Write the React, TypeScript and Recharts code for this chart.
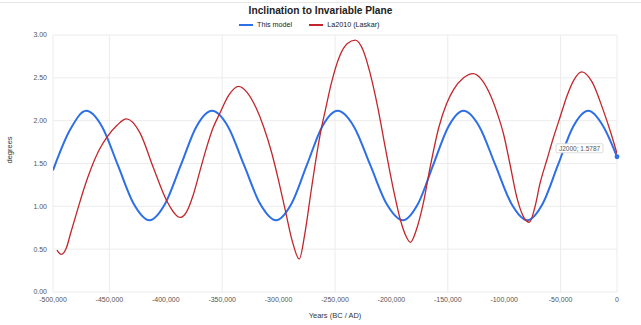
import React from "react";
import { LineChart, Line, XAxis, YAxis, CartesianGrid, ReferenceDot } from "recharts";

const title = "Inclination to Invariable Plane";
const seriesNames = ["This model", "La2010 (Laskar)"];
const xTicks = [-500000, -450000, -400000, -350000, -300000, -250000, -200000, -150000, -100000, -50000, 0];
const yTicks = [0, 0.5, 1, 1.5, 2, 2.5, 3];

const modelYears = [
  -500000, -485000, -470600, -456500, -442500, -428500, -414500, -400600, -386700, -372900,
  -359000, -344800, -330600, -316400, -302300, -288600, -275000, -261400, -247700, -233200,
  -218700, -204300, -189800, -176400, -163000, -149500, -136100, -122000, -107800, -93600,
  -79450, -65900, -52400, -38900, -25400, -12000, 0,
];
const modelValues = [
  1.42, 1.89, 2.115, 1.93, 1.48, 1.03, 0.838, 1.03, 1.48, 1.93,
  2.115, 1.93, 1.48, 1.03, 0.838, 1.03, 1.48, 1.93, 2.115, 1.93,
  1.48, 1.03, 0.838, 1.03, 1.48, 1.93, 2.115, 1.93, 1.48, 1.03,
  0.838, 1.03, 1.48, 1.93, 2.115, 1.93, 1.5787,
];

const laskarYears = [
  -496500, -492700, -488000, -484500, -478000, -472700, -466000, -459000, -452000, -443000,
  -434900, -423000, -411000, -399000,
  -387000, -381000, -376000, -370000, -364000, -358000, -352300, -344000,
  -335400, -328000, -320000, -313300, -306000, -300000, -294000, -288000, -281700, -276500,
  -271500, -267500, -263000, -258600, -253000, -246000, -239000, -232100, -225000, -218800,
  -212000, -205500, -198100, -192000, -187000, -183100, -178000, -172000, -165600, -158000,
  -151000, -145000, -136000, -127500, -120000, -113000, -106000, -100700, -95000, -88900,
  -83000, -77700, -73000, -68200, -62000, -56400, -50000, -44600, -38000, -31250,
  -22000, -12150, -6000, 0,
];
const laskarValues = [
  0.49, 0.44, 0.52, 0.68, 0.97, 1.2, 1.45, 1.66, 1.81, 1.95,
  2.02, 1.86, 1.45, 1.06,
  0.87, 0.95, 1.12, 1.4, 1.68, 1.92, 2.08, 2.3,
  2.4, 2.33, 2.15, 1.93, 1.62, 1.3, 0.95, 0.6, 0.386, 0.7,
  1.15, 1.5, 1.85, 2.12, 2.45, 2.75, 2.9, 2.94, 2.82, 2.55,
  2.15, 1.69, 1.19, 0.84, 0.65, 0.58, 0.72, 1.02, 1.46, 1.92,
  2.2, 2.36, 2.5, 2.55, 2.48, 2.32, 2.08, 1.85, 1.5, 1.11,
  0.88, 0.814, 0.98, 1.27, 1.55, 1.8, 2.06, 2.28, 2.48, 2.57,
  2.45, 2.12, 1.88, 1.617,
];

const annotationYear = 0;
const annotationValue = 1.5787;
const annotationText = "J2000; 1.5787";

const modelData = modelYears.map((year, i) => ({ year, v: modelValues[i] }));
const laskarData = laskarYears.map((year, i) => ({ year, v: laskarValues[i] }));

const BLUE = "#2d6fe6";
const RED = "#c2262b";
const FONT = '"Liberation Sans", Arial, sans-serif';

const fmtX = (v: number) => v.toLocaleString("en-US");
const fmtY = (v: number) => v.toFixed(2);

const AnnotationShape = (props: any) => {
  const { cx, cy } = props;
  if (cx == null || cy == null) return <g />;
  const w = 47;
  const h = 9;
  const rx = cx - 14 - w;
  const ry = cy - 13;
  return (
    <g>
      <rect x={rx} y={ry} width={w} height={h} fill="#fff" stroke="#d6d6d6" strokeWidth={0.8} rx={1} />
      <text x={rx + 3} y={ry + 6.8} fontSize={6.5} fill="#555" fontFamily={FONT}>
        {annotationText}
      </text>
      <circle cx={cx} cy={cy} r={2.4} fill={BLUE} />
    </g>
  );
};

export default function App() {
  return (
    <div style={{ position: "fixed", left: 0, top: 0, width: 641, height: 325, background: "#fff", fontFamily: FONT }}>
      <div style={{ position: "absolute", left: 0, top: 2, width: 641, height: 0, borderTop: "1px solid #e6e6e6" }} />
      <div
        style={{
          position: "absolute",
          left: 0,
          top: 5,
          width: 641,
          textAlign: "center",
          fontSize: 10.2,
          fontWeight: "bold",
          color: "#222",
        }}
      >
        {title}
      </div>
      <div style={{ position: "absolute", left: 239, top: 20, fontSize: 7.2, color: "#222", display: "flex", alignItems: "center", whiteSpace: "nowrap" }}>
        <span style={{ display: "inline-block", width: 14, height: 2, background: BLUE, marginRight: 4 }} />
        <span style={{ marginRight: 17 }}>{seriesNames[0]}</span>
        <span style={{ display: "inline-block", width: 14, height: 2, background: RED, marginRight: 4 }} />
        <span>{seriesNames[1]}</span>
      </div>
      <div style={{ position: "absolute", left: 0, top: 0 }}>
        <LineChart width={641} height={325} margin={{ top: 35, right: 24, bottom: 0, left: 0 }}>
          <CartesianGrid stroke="#ececec" strokeWidth={1} />
          <XAxis
            type="number"
            dataKey="year"
            domain={[-500000, 0]}
            ticks={xTicks}
            tickFormatter={fmtX}
            axisLine={false}
            tickLine={false}
            tickSize={0}
            tickMargin={5}
            height={33}
            allowDataOverflow
            tick={{ fontSize: 7, fill: "#555", fontFamily: FONT }}
            label={{ value: "Years (BC / AD)", position: "insideBottom", offset: 7, fontSize: 7.5, fill: "#333", fontFamily: FONT }}
          />
          <YAxis
            type="number"
            domain={[0, 3]}
            ticks={yTicks}
            tickFormatter={fmtY}
            axisLine={false}
            tickLine={false}
            tickSize={0}
            tickMargin={6}
            width={53}
            tick={{ fontSize: 7, fill: "#555", fontFamily: FONT }}
            label={{ value: "degrees", angle: -90, position: "insideLeft", offset: 9, fontSize: 7.5, fill: "#333", fontFamily: FONT }}
          />
          <Line
            data={modelData}
            dataKey="v"
            type="monotone"
            stroke={BLUE}
            strokeWidth={2}
            dot={false}
            activeDot={false}
            isAnimationActive={false}
          />
          <Line
            data={laskarData}
            dataKey="v"
            type="monotone"
            stroke={RED}
            strokeWidth={1.3}
            dot={false}
            activeDot={false}
            isAnimationActive={false}
          />
          <ReferenceDot x={annotationYear} y={annotationValue} r={2.4} shape={AnnotationShape} ifOverflow="visible" />
        </LineChart>
      </div>
    </div>
  );
}
